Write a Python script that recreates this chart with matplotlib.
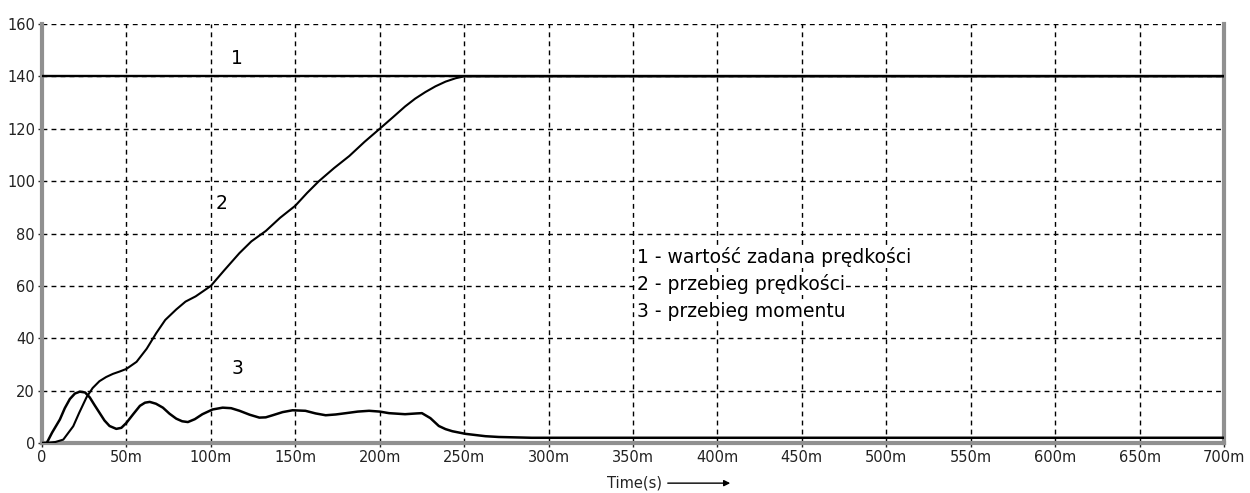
import numpy as np
import matplotlib
matplotlib.use('Agg')
import matplotlib.pyplot as plt

plt.rcParams['font.family'] = ['DejaVu Sans']

# time in ms
t_set = [0, 700]
v_set = [140, 140]

t_speed = [0, 3, 8, 12.6, 18.5, 22, 26.4, 30, 34, 38, 42, 46, 50, 56, 62, 67.7, 73, 79.5,
           85, 91, 100, 108, 116.9, 124, 132.6, 141, 150, 157, 164, 173, 182, 191, 200,
           208, 215, 221, 227, 233, 239, 245, 250, 700]
v_speed = [0, 0, 0.4, 1.3, 6.4, 11.5, 17.5, 21, 23.6, 25.2, 26.4, 27.3, 28.3, 31, 36,
           42, 47, 51, 54, 56, 60, 66, 72.5, 77, 81, 86, 90.6, 95.5, 100, 105, 109.6,
           115, 120, 124.5, 128.5, 131.5, 134, 136.2, 138, 139.3, 140, 140]

t_torque = [0, 2.8, 6, 10.6, 13.5, 16.5, 19.5, 22.4, 25.5, 28.3, 31, 34, 37, 40, 44, 47,
            50, 54, 58, 61, 63.8, 67.5, 71.6, 75.5, 79.5, 83, 86.4, 90.5, 95, 101, 107,
            112, 117, 123, 128.7, 132.5, 136.6, 142.5, 148.4, 156, 162, 168, 174, 180,
            187, 193.7, 200, 205.5, 215, 222, 225, 230, 235, 239, 243, 250.8, 262.6,
            270.5, 290, 700]
v_torque = [0, 0, 4, 9, 13.3, 16.8, 18.9, 19.6, 19.3, 17.4, 14.6, 11.6, 8.6, 6.5, 5.4,
            5.8, 7.7, 11, 14.2, 15.4, 15.7, 15, 13.5, 11.2, 9.3, 8.3, 8, 9.1, 11, 12.8,
            13.5, 13.3, 12.3, 10.8, 9.7, 9.8, 10.6, 11.8, 12.5, 12.3, 11.3, 10.6, 10.9,
            11.4, 12, 12.3, 12, 11.4, 11, 11.3, 11.4, 9.5, 6.5, 5.3, 4.5, 3.5, 2.6,
            2.3, 2, 2]

x_ticks = list(range(0, 701, 50))
x_labels = ['0'] + ['%dm' % v for v in x_ticks[1:]]
y_ticks = list(range(0, 161, 20))

legend_lines = ['1 - wartość zadana prędkości',
                '2 - przebieg prędkości',
                '3 - przebieg momentu']

fig = plt.figure(figsize=(12.5, 4.93), dpi=100)
ax = fig.add_axes([0.0336, 0.1014, 0.9456, 0.8499])

ax.plot(t_set, v_set, color='black', linewidth=1.7, zorder=3)
ax.plot(t_speed, v_speed, color='black', linewidth=1.5, zorder=3)
ax.plot(t_torque, v_torque, color='black', linewidth=1.8, zorder=3)

ax.set_xlim(0, 700)
ax.set_ylim(0, 160)
ax.set_xticks(x_ticks)
ax.set_xticklabels(x_labels)
ax.set_yticks(y_ticks)
ax.grid(True, color='black', linestyle=(0, (3.5, 3)), linewidth=1.0)
ax.tick_params(length=3, width=1, colors='#222222', labelsize=10.5, pad=2)

for side in ['left', 'right', 'bottom']:
    ax.spines[side].set_color('#909090')
    ax.spines[side].set_linewidth(3)
ax.spines['top'].set_visible(False)

ax.text(115.5, 147, '1', fontsize=13.5, ha='center', va='center')
ax.text(106.6, 91.6, '2', fontsize=13.5, ha='center', va='center')
ax.text(116, 28.6, '3', fontsize=13.5, ha='center', va='center')

for i, line in enumerate(legend_lines):
    ax.text(352.3, 71 - i * 10.3, line, fontsize=13.5, ha='left', va='center',
            bbox=dict(facecolor='white', edgecolor='none', pad=0.5))

fig.text(0.4856, 0.02, 'Time(s)', fontsize=10.5, ha='left', va='center', color='#222222')
fig.patches.append(matplotlib.patches.FancyArrowPatch(
    (665 / 1250, 0.02), (733 / 1250, 0.02), transform=fig.transFigure,
    arrowstyle='-|>', mutation_scale=9, color='black', linewidth=1))

fig.savefig('out.png', dpi=100)
